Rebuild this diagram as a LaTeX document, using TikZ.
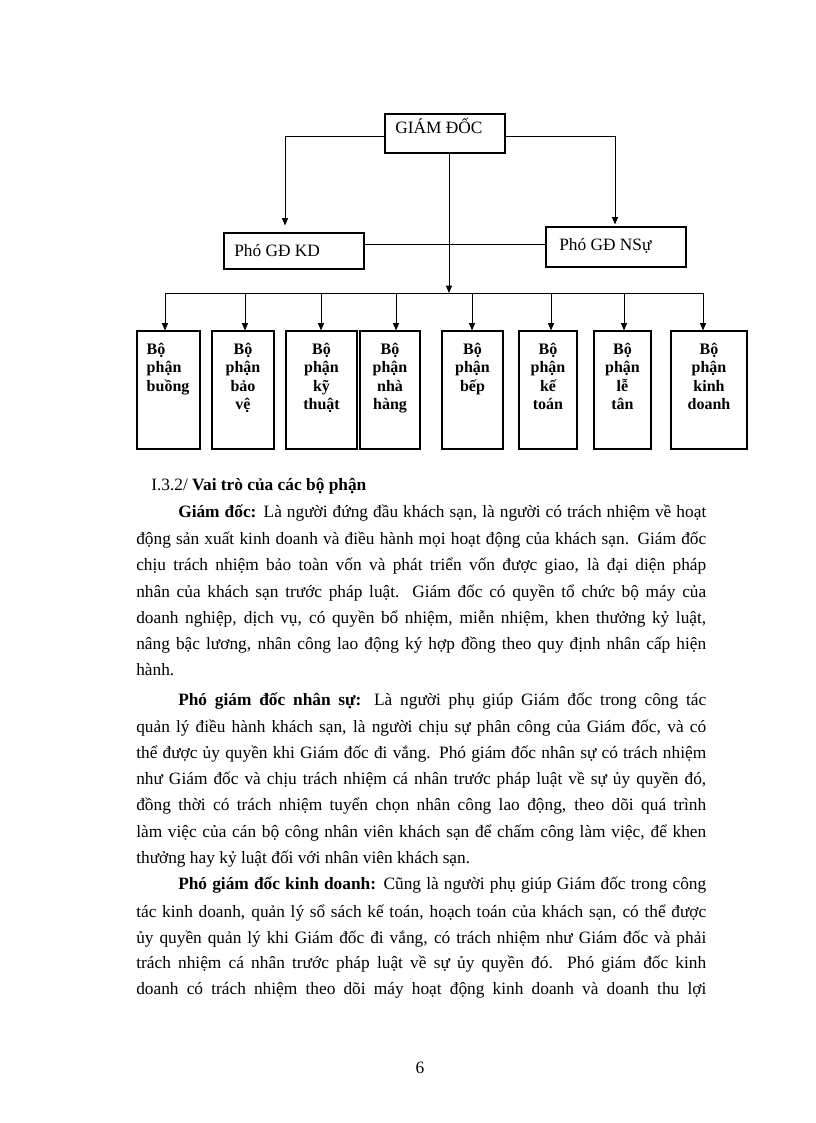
\documentclass[tikz,border=0pt]{standalone}
\usepackage{fontspec}
\setmainfont{Liberation Serif}
\usetikzlibrary{arrows.meta}
\newcommand\jfull[1]{\makebox[427.5pt][s]{#1}}
\newcommand\jind[1]{\makebox[396pt][s]{#1}}
\begin{document}
\begin{tikzpicture}[x=0.75pt,y=-0.75pt,
  box/.style={draw=black, line width=0.8pt, inner sep=0pt},
  lbl/.style={inner sep=0pt, font=\fontsize{13pt}{15pt}\selectfont},
  dlbl/.style={inner sep=0pt, align=center, font=\fontsize{12pt}{13.9pt}\selectfont\bfseries},
  arr/.style={line width=0.7pt, -{Triangle[length=5.5pt,width=4.5pt]}},
  link/.style={line width=0.7pt},
  body/.style={anchor=base west, inner sep=0pt, font=\fontsize{13pt}{15pt}\selectfont}]
\useasboundingbox (0,0) rectangle (816,1123);
\fill[white] (0,0) rectangle (816,1123);

% top boxes
\node[box, minimum width=120*0.75pt, minimum height=39*0.75pt] (gd) at (445,133.5) {};
\node[lbl, anchor=base west] (gdt) at (395,134) {GIÁM ĐỐC};
\node[box, minimum width=140*0.75pt, minimum height=36*0.75pt] (kd) at (294,251) {};
\node[lbl, anchor=base west] (kdt) at (234,256) {Phó GĐ KD};
\node[box, minimum width=140*0.75pt, minimum height=40*0.75pt] (ns) at (616,247) {};
\node[lbl, anchor=base west] (nst) at (559,250) {Phó GĐ NSự};

% departments
\node[box, minimum width=63*0.75pt, minimum height=118*0.75pt] (b1) at (168.5,390) {};
\node[box, minimum width=62*0.75pt, minimum height=118*0.75pt] (b2) at (243,390) {};
\node[box, minimum width=71*0.75pt, minimum height=118*0.75pt] (b3) at (321.5,390) {};
\node[box, minimum width=60*0.75pt, minimum height=118*0.75pt] (b4) at (390,390) {};
\node[box, minimum width=61*0.75pt, minimum height=118*0.75pt] (b5) at (472.5,390) {};
\node[box, minimum width=58*0.75pt, minimum height=118*0.75pt] (b6) at (548,390) {};
\node[box, minimum width=57*0.75pt, minimum height=118*0.75pt] (b7) at (622.5,390) {};
\node[box, minimum width=76*0.75pt, minimum height=118*0.75pt] (b8) at (709,390) {};

\node[dlbl, align=left, anchor=north west] (l1) at ([xshift=7.5pt,yshift=-9pt]b1.north west) {Bộ\\phận\\buồng};
\node[dlbl, anchor=north] (l2) at ([yshift=-9pt]b2.north) {Bộ\\phận\\bảo\\vệ};
\node[dlbl, anchor=north] (l3) at ([yshift=-9pt]b3.north) {Bộ\\phận\\kỹ\\thuật};
\node[dlbl, anchor=north] (l4) at ([yshift=-9pt]b4.north) {Bộ\\phận\\nhà\\hàng};
\node[dlbl, anchor=north] (l5) at ([yshift=-9pt]b5.north) {Bộ\\phận\\bếp};
\node[dlbl, anchor=north] (l6) at ([yshift=-9pt]b6.north) {Bộ\\phận\\kế\\toán};
\node[dlbl, anchor=north] (l7) at ([yshift=-9pt]b7.north) {Bộ\\phận\\lễ\\tân};
\node[dlbl, anchor=north] (l8) at ([yshift=-9pt]b8.north) {Bộ\\phận\\kinh\\doanh};

% connectors
\draw[arr] ([yshift=-1.9pt]gd.west) -| ([xshift=-6.75pt,yshift=5.25pt]kd.north);
\draw[arr] ([yshift=-1.9pt]gd.east) -| ([xshift=-0.75pt,yshift=1.5pt]ns.north);
\coordinate (lk) at (450,244);
\draw[link] (kd.east |- lk) -- (ns.west |- lk);
\coordinate (t1) at (165,293);
\coordinate (t2) at (245,293);
\coordinate (t3) at (321,293);
\coordinate (t4) at (396,293);
\coordinate (t5) at (472,293);
\coordinate (t6) at (551,293);
\coordinate (t7) at (624,293);
\coordinate (t8) at (703,293);
\draw[link] (t1) -- (t8);
\draw[arr] ([xshift=3pt]gd.south) -- ([xshift=3pt]gd.south |- t1);
\draw[arr] (t1) -- (t1 |- b1.north);
\draw[arr] (t2) -- (t2 |- b2.north);
\draw[arr] (t3) -- (t3 |- b3.north);
\draw[arr] (t4) -- (t4 |- b4.north);
\draw[arr] (t5) -- (t5 |- b5.north);
\draw[arr] (t6) -- (t6 |- b6.north);
\draw[arr] (t7) -- (t7 |- b7.north);
\draw[arr] (t8) -- (t8 |- b8.north);

% body text
\node[body] (h) at (151,490) {I.3.2/ \textbf{Vai trò của các bộ phận}};
\node[body] (p1a) at (178,517) {\jind{\textbf{Giám đốc:} Là người đứng đầu khách sạn, là người có trách nhiệm về hoạt}};
\node[body] (p1b) at (136,544) {\jfull{động sản xuất kinh doanh và điều hành mọi hoạt động của khách sạn. Giám đốc}};
\node[body] (p1c) at (136,570) {\jfull{chịu trách nhiệm bảo toàn vốn và phát triển vốn được giao, là đại diện pháp}};
\node[body] (p1d) at (136,597) {\jfull{nhân của khách sạn trước pháp luật. Giám đốc có quyền tổ chức bộ máy của}};
\node[body] (p1e) at (136,623) {\jfull{doanh nghiệp, dịch vụ, có quyền bổ nhiệm, miễn nhiệm, khen thưởng kỷ luật,}};
\node[body] (p1f) at (136,649) {\jfull{nâng bậc lương, nhân công lao động ký hợp đồng theo quy định nhân cấp hiện}};
\node[body] (p1g) at (136,675) {hành.};

\node[body] (p2a) at (178,705) {\jind{\textbf{Phó giám đốc nhân sự:} Là người phụ giúp Giám đốc trong công tác}};
\node[body] (p2b) at (136,732) {\jfull{quản lý điều hành khách sạn, là người chịu sự phân công của Giám đốc, và có}};
\node[body] (p2c) at (136,758) {\jfull{thể được ủy quyền khi Giám đốc đi vắng. Phó giám đốc nhân sự có trách nhiệm}};
\node[body] (p2d) at (136,784) {\jfull{như Giám đốc và chịu trách nhiệm cá nhân trước pháp luật về sự ủy quyền đó,}};
\node[body] (p2e) at (136,810) {\jfull{đồng thời có trách nhiệm tuyển chọn nhân công lao động, theo dõi quá trình}};
\node[body] (p2f) at (136,837) {\jfull{làm việc của cán bộ công nhân viên khách sạn để chấm công làm việc, để khen}};
\node[body] (p2g) at (136,863) {thưởng hay kỷ luật đối với nhân viên khách sạn.};

\node[body] (p3a) at (178,889) {\jind{\textbf{Phó giám đốc kinh doanh:} Cũng là người phụ giúp Giám đốc trong công}};
\node[body] (p3b) at (136,917) {\jfull{tác kinh doanh, quản lý sổ sách kế toán, hoạch toán của khách sạn, có thể được}};
\node[body] (p3c) at (136,943) {\jfull{ủy quyền quản lý khi Giám đốc đi vắng, có trách nhiệm như Giám đốc và phải}};
\node[body] (p3d) at (136,968) {\jfull{trách nhiệm cá nhân trước pháp luật về sự ủy quyền đó. Phó giám đốc kinh}};
\node[body] (p3e) at (136,994) {\jfull{doanh có trách nhiệm theo dõi máy hoạt động kinh doanh và doanh thu lợi}};

\node[body, anchor=base] (pg) at (420,1073) {6};
\end{tikzpicture}
\end{document}
